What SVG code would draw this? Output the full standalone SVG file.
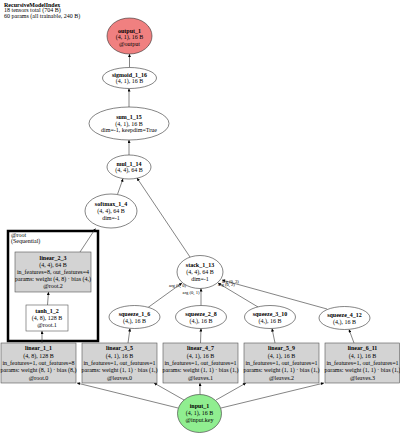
<svg xmlns="http://www.w3.org/2000/svg" width="400" height="434" viewBox="0 0 400 434">
<style>
text{font-family:"Liberation Serif","Times New Roman",serif;font-size:6px;fill:#000;text-anchor:middle}
.t{text-anchor:start}
.b{font-weight:bold}
.el{fill:#fff;stroke:#333;stroke-width:0.6}
.box{fill:#d3d3d3;stroke:#555;stroke-width:0.6}
.wbox{fill:#fff;stroke:#555;stroke-width:0.6}
.e{stroke:#333;stroke-width:0.6;fill:none;marker-end:url(#ah)}
.lbl{font-size:4.6px;text-anchor:start}
.lble{font-size:4.6px;text-anchor:end}
</style>
<defs>
<marker id="ah" viewBox="0 0 10 10" refX="10" refY="5" markerWidth="3.6" markerHeight="3" orient="auto" markerUnits="userSpaceOnUse">
<path d="M0,0 L10,5 L0,10 z" fill="#000"/>
</marker>
</defs>
<rect width="400" height="434" fill="#fff"/>
<g id="title">
<text class="t b" x="4" y="7">RecursiveModelIndex</text>
<text class="t" x="4" y="12.3">18 tensors total (704 B)</text>
<text class="t" x="4" y="17.6">60 params (all trainable, 240 B)</text>
</g>
<g id="cluster_root">
<rect x="8" y="231" width="90" height="110" fill="none" stroke="#000" stroke-width="2.5"/>
<text class="t" x="11" y="237">@root</text>
<text class="t" x="11" y="243">(Sequential)</text>
</g>
<g id="connectors">
<line class="e" x1="129.5" y1="67.5" x2="129.5" y2="54"/>
<line class="e" x1="129" y1="107" x2="129" y2="88.5"/>
<line class="e" x1="129" y1="155" x2="129" y2="140"/>
<line class="e" x1="117.5" y1="194.3" x2="123" y2="178.7"/>
<line class="e" x1="190" y1="257" x2="137" y2="178"/>
<line class="e" x1="80" y1="252" x2="95.5" y2="228.5"/>
<line class="e" x1="47.5" y1="305" x2="48.5" y2="292"/>
<line class="e" x1="42" y1="343" x2="42" y2="331"/>
<line class="e" x1="148" y1="307.5" x2="182" y2="283"/>
<line class="e" x1="201" y1="305.5" x2="201" y2="288.5"/>
<line class="e" x1="258" y1="307" x2="218" y2="283"/>
<line class="e" x1="327" y1="309" x2="222" y2="280"/>
<line class="e" x1="128" y1="343" x2="130" y2="328.5"/>
<line class="e" x1="200.5" y1="343" x2="201" y2="328.5"/>
<line class="e" x1="275" y1="343" x2="272" y2="328.5"/>
<line class="e" x1="354" y1="343" x2="349" y2="329.5"/>
<line class="e" x1="178" y1="408" x2="77" y2="383"/>
<line class="e" x1="184" y1="400" x2="154" y2="383"/>
<line class="e" x1="200" y1="394.5" x2="200" y2="383"/>
<line class="e" x1="216" y1="400" x2="246" y2="383"/>
<line class="e" x1="221" y1="408" x2="324" y2="383"/>
<text class="lble" x="186" y="286.5">arg (0, 0)</text>
<text class="lble" x="199.5" y="294">arg (0, 1)</text>
<text class="lbl" x="218" y="286">arg (0, 2)</text>
<text class="lbl" x="222" y="282.5">arg (0, 3)</text>
</g>
<g id="output_1">
<ellipse cx="129.5" cy="36" rx="22.5" ry="18" fill="#f08080" stroke="#333" stroke-width="0.6"/>
<text class="b" x="129.5" y="32.7">output_1</text>
<text x="129.5" y="39.4">(4, 1), 16 B</text>
<text x="129.5" y="46.1">@output</text>
</g>
<g id="sigmoid_1_16">
<ellipse class="el" cx="129.5" cy="78" rx="27" ry="10.5"/>
<text class="b" x="129.5" y="76.7">sigmoid_1_16</text>
<text x="129.5" y="83.4">(4, 1), 16 B</text>
</g>
<g id="sum_1_15">
<ellipse class="el" cx="129" cy="123.5" rx="40" ry="16.5"/>
<text class="b" x="129" y="119">sum_1_15</text>
<text x="129" y="125.7">(4, 1), 16 B</text>
<text x="129" y="132.4">dim=-1, keepdim=True</text>
</g>
<g id="mul_1_14">
<ellipse class="el" cx="129" cy="167" rx="22" ry="12"/>
<text class="b" x="129" y="165.7">mul_1_14</text>
<text x="129" y="172.4">(4, 4), 64 B</text>
</g>
<g id="softmax_1_4">
<ellipse class="el" cx="111" cy="211" rx="26" ry="17"/>
<text class="b" x="111" y="206.3">softmax_1_4</text>
<text x="111" y="213">(4, 4), 64 B</text>
<text x="111" y="219.7">dim=-1</text>
</g>
<g id="linear_2_3">
<rect class="box" x="15" y="252" width="76" height="40"/>
<text class="b" x="53" y="259.6">linear_2_3</text>
<text x="53" y="266.8">(4, 4), 64 B</text>
<text x="53" y="274">in_features=8, out_features=4</text>
<text x="53" y="281.2">params: weight (4, 8) · bias (4,)</text>
<text x="53" y="288.4">@root.2</text>
</g>
<g id="tanh_1_2">
<rect class="wbox" x="26" y="305" width="42" height="26"/>
<text class="b" x="47" y="313">tanh_1_2</text>
<text x="47" y="320">(4, 8), 128 B</text>
<text x="47" y="327">@root.1</text>
</g>
<g id="stack_1_13">
<ellipse class="el" cx="200" cy="272" rx="23" ry="16.5"/>
<text class="b" x="200" y="267">stack_1_13</text>
<text x="200" y="274">(4, 4), 64 B</text>
<text x="200" y="281">dim=-1</text>
</g>
<g id="squeeze_1_6">
<ellipse class="el" cx="134.5" cy="317" rx="25.5" ry="11.5"/>
<text class="b" x="134.5" y="316">squeeze_1_6</text>
<text x="134.5" y="322.7">(4,), 16 B</text>
</g>
<g id="squeeze_2_8">
<ellipse class="el" cx="201" cy="317" rx="25.5" ry="11.5"/>
<text class="b" x="201" y="316">squeeze_2_8</text>
<text x="201" y="322.7">(4,), 16 B</text>
</g>
<g id="squeeze_3_10">
<ellipse class="el" cx="270" cy="317" rx="25.5" ry="11.5"/>
<text class="b" x="270" y="316">squeeze_3_10</text>
<text x="270" y="322.7">(4,), 16 B</text>
</g>
<g id="squeeze_4_12">
<ellipse class="el" cx="344.5" cy="318" rx="25.5" ry="11.5"/>
<text class="b" x="344.5" y="317">squeeze_4_12</text>
<text x="344.5" y="323.7">(4,), 16 B</text>
</g>
<g id="linear_1_1">
<rect class="box" x="1" y="343" width="75" height="40"/>
<text class="b" x="38.5" y="350.3">linear_1_1</text>
<text x="38.5" y="357.6">(4, 8), 128 B</text>
<text x="38.5" y="364.9">in_features=1, out_features=8</text>
<text x="38.5" y="372.2">params: weight (8, 1) · bias (8,)</text>
<text x="38.5" y="379.5">@root.0</text>
</g>
<g id="linear_3_5">
<rect class="box" x="82" y="343" width="75" height="40"/>
<text class="b" x="119.5" y="350.3">linear_3_5</text>
<text x="119.5" y="357.6">(4, 1), 16 B</text>
<text x="119.5" y="364.9">in_features=1, out_features=1</text>
<text x="119.5" y="372.2">params: weight (1, 1) · bias (1,)</text>
<text x="119.5" y="379.5">@leaves.0</text>
</g>
<g id="linear_4_7">
<rect class="box" x="163" y="343" width="75" height="40"/>
<text class="b" x="200.5" y="350.3">linear_4_7</text>
<text x="200.5" y="357.6">(4, 1), 16 B</text>
<text x="200.5" y="364.9">in_features=1, out_features=1</text>
<text x="200.5" y="372.2">params: weight (1, 1) · bias (1,)</text>
<text x="200.5" y="379.5">@leaves.1</text>
</g>
<g id="linear_5_9">
<rect class="box" x="244" y="343" width="75" height="40"/>
<text class="b" x="281.5" y="350.3">linear_5_9</text>
<text x="281.5" y="357.6">(4, 1), 16 B</text>
<text x="281.5" y="364.9">in_features=1, out_features=1</text>
<text x="281.5" y="372.2">params: weight (1, 1) · bias (1,)</text>
<text x="281.5" y="379.5">@leaves.2</text>
</g>
<g id="linear_6_11">
<rect class="box" x="325" y="343" width="74.5" height="40"/>
<text class="b" x="362.5" y="350.3">linear_6_11</text>
<text x="362.5" y="357.6">(4, 1), 16 B</text>
<text x="362.5" y="364.9">in_features=1, out_features=1</text>
<text x="362.5" y="372.2">params: weight (1, 1) · bias (1,)</text>
<text x="362.5" y="379.5">@leaves.3</text>
</g>
<g id="input_1">
<ellipse cx="199.5" cy="413.5" rx="22" ry="19" fill="#90ee90" stroke="#333" stroke-width="0.6"/>
<text class="b" x="199.5" y="408">input_1</text>
<text x="199.5" y="415">(4, 1), 16 B</text>
<text x="199.5" y="422">@input.key</text>
</g>
</svg>
